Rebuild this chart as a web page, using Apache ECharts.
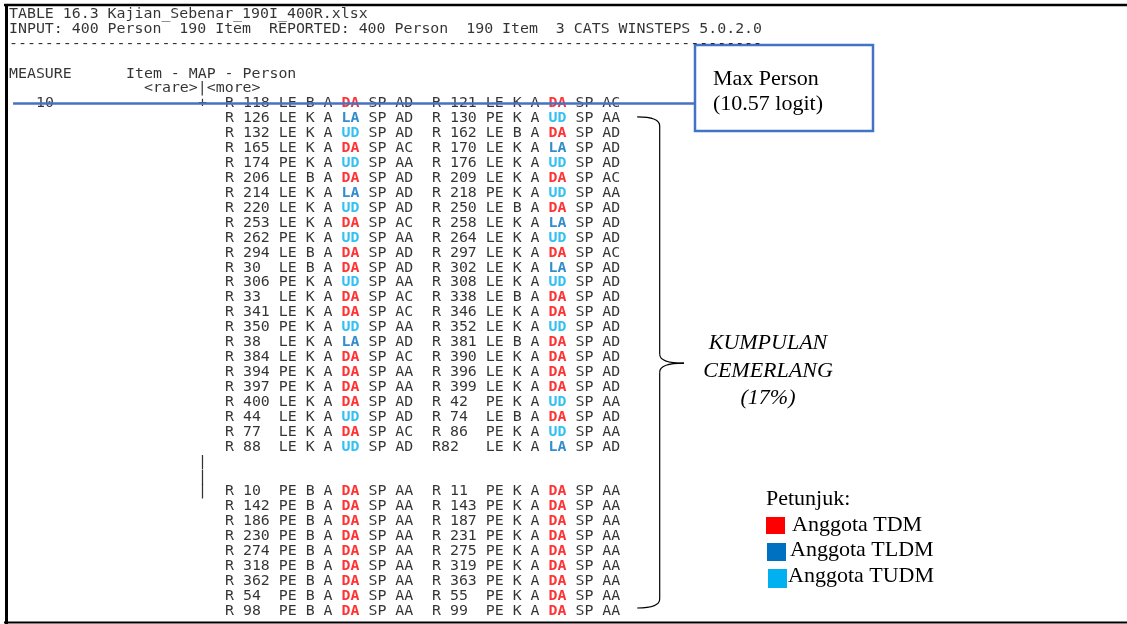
<!DOCTYPE html>
<html><head><meta charset="utf-8">
<script src="https://cdn.jsdelivr.net/npm/echarts@6/dist/echarts.min.js"></script>
<style>html,body{margin:0;padding:0;background:#fff}#c{width:1127px;height:624px}</style>
</head><body><div id="c"></div>
<script>
// ---- header text lines (row index, column index in characters) ----
const headerTexts = [
  'TABLE 16.3 Kajian_Sebenar_190I_400R.xlsx',
  'INPUT: 400 Person  190 Item  REPORTED: 400 Person  190 Item  3 CATS WINSTEPS 5.0.2.0',
  '------------------------------------------------------------------------------------',
  'MEASURE',
  'Item - MAP - Person',
  '<rare>|<more>'
];
const headerRows = [-6, -5, -4, -2, -2, -1];
const headerCols = [1, 1, 1, 1, 14, 16];

// ---- measure axis ----
const measureTickLabels = ['10'];
const measureTickRows = [0];
const axisMarks = ['+', '|', '|', '|'];
const axisMarkRows = [0, 24, 25, 26];

// ---- persons (two per row) ----
const personRows = [0,1,2,3,4,5,6,7,8,9,10,11,12,13,14,15,16,17,18,19,20,21,22,23,
                    26,27,28,29,30,31,32,33,34];
const personLeft = [
  'R 118 LE B A DA SP AD','R 126 LE K A LA SP AD','R 132 LE K A UD SP AD','R 165 LE K A DA SP AC',
  'R 174 PE K A UD SP AA','R 206 LE B A DA SP AD','R 214 LE K A LA SP AD','R 220 LE K A UD SP AD',
  'R 253 LE K A DA SP AC','R 262 PE K A UD SP AA','R 294 LE B A DA SP AD','R 30  LE B A DA SP AD',
  'R 306 PE K A UD SP AA','R 33  LE K A DA SP AC','R 341 LE K A DA SP AC','R 350 PE K A UD SP AA',
  'R 38  LE K A LA SP AD','R 384 LE K A DA SP AC','R 394 PE K A DA SP AA','R 397 PE K A DA SP AA',
  'R 400 LE K A DA SP AD','R 44  LE K A UD SP AD','R 77  LE K A DA SP AC','R 88  LE K A UD SP AD',
  'R 10  PE B A DA SP AA','R 142 PE B A DA SP AA','R 186 PE B A DA SP AA','R 230 PE B A DA SP AA',
  'R 274 PE B A DA SP AA','R 318 PE B A DA SP AA','R 362 PE B A DA SP AA','R 54  PE B A DA SP AA',
  'R 98  PE B A DA SP AA'
];
const personRight = [
  'R 121 LE K A DA SP AC','R 130 PE K A UD SP AA','R 162 LE B A DA SP AD','R 170 LE K A LA SP AD',
  'R 176 LE K A UD SP AD','R 209 LE K A DA SP AC','R 218 PE K A UD SP AA','R 250 LE B A DA SP AD',
  'R 258 LE K A LA SP AD','R 264 LE K A UD SP AD','R 297 LE K A DA SP AC','R 302 LE K A LA SP AD',
  'R 308 LE K A UD SP AD','R 338 LE B A DA SP AD','R 346 LE K A DA SP AD','R 352 LE K A UD SP AD',
  'R 381 LE B A DA SP AD','R 390 LE K A DA SP AD','R 396 LE K A DA SP AD','R 399 LE K A DA SP AD',
  'R 42  PE K A UD SP AA','R 74  LE B A DA SP AD','R 86  PE K A UD SP AA','R82   LE K A LA SP AD',
  'R 11  PE K A DA SP AA','R 143 PE K A DA SP AA','R 187 PE K A DA SP AA','R 231 PE K A DA SP AA',
  'R 275 PE K A DA SP AA','R 319 PE K A DA SP AA','R 363 PE K A DA SP AA','R 55  PE K A DA SP AA',
  'R 99  PE K A DA SP AA'
];
const groupColors = { DA: '#FF0000', LA: '#0070C0', UD: '#00B0F0' };

// ---- annotations ----
const maxPersonRow = 0;          // Max Person (10.57 logit)
const maxPersonCols = [1.45, 77.2];
const braceRows = [0.9, 17.4, 33.8];   // top, tip, bottom
const braceCols = [70.8, 73.3, 76.0];  // hook, spine, tip

// ---- layout constants ----
const CHAR = 9;        // px per character column
const MONO = '"DejaVu Sans Mono", "Liberation Mono", monospace';
const MONO_SIZE = 14.9;
const SERIF = '"Liberation Serif", "DejaVu Serif", serif';

const textItems = [];
headerTexts.forEach((t, i) => textItems.push({ value: [headerCols[i], headerRows[i]], text: t }));
measureTickLabels.forEach((t, i) => textItems.push({ value: [4, measureTickRows[i]], text: t }));
axisMarks.forEach((t, i) => textItems.push({ value: [22, axisMarkRows[i]], text: t }));
const personItems = [];
personRows.forEach((r, i) => {
  personItems.push({ value: [25, r], text: personLeft[i] });
  personItems.push({ value: [48, r], text: personRight[i] });
});

function colorize(s) {
  return s.replace(/\b(DA|LA|UD)\b/g, m => '{' + m.toLowerCase() + '|' + m + '}');
}
const richStyles = {};
Object.keys(groupColors).forEach(k => {
  richStyles[k.toLowerCase()] = { color: groupColors[k], fontWeight: 'bold', fontFamily: MONO, fontSize: MONO_SIZE };
});

const chart = echarts.init(document.getElementById('c'), null, { renderer: 'canvas' });
const rowPx = 14.925;
chart.setOption({
  animation: false,
  backgroundColor: '#fff',
  grid: { left: 0, right: 0, top: 6.5, height: 41 * rowPx },
  xAxis: { type: 'value', min: 0, max: 1127 / CHAR, show: false },
  yAxis: { type: 'value', inverse: true, min: -6.5, max: 34.5, show: false },
  series: [
    {
      type: 'scatter', silent: true, symbolSize: 0, data: textItems,
      label: { show: true, position: 'right', distance: 0, color: '#000',
        fontFamily: MONO, fontSize: MONO_SIZE, formatter: p => p.data.text }
    },
    {
      type: 'scatter', silent: true, symbolSize: 0, data: personItems,
      label: { show: true, position: 'right', distance: 0, color: '#000',
        fontFamily: MONO, fontSize: MONO_SIZE, formatter: p => colorize(p.data.text), rich: richStyles }
    },
    {
      type: 'line', silent: true, symbol: 'none', z: 10,
      data: maxPersonCols.map(c => [c, maxPersonRow]),
      lineStyle: { color: '#4472C4', width: 2.5 }
    },
    {
      type: 'custom', silent: true, data: [[0, 0]],
      renderItem: (params, api) => {
        const top = api.coord([braceCols[0], braceRows[0]]);
        const spineTop = api.coord([braceCols[1], braceRows[0]]);
        const tip = api.coord([braceCols[2], braceRows[1]]);
        const spineMid = api.coord([braceCols[1], braceRows[1]]);
        const bot = api.coord([braceCols[0], braceRows[2]]);
        const spineBot = api.coord([braceCols[1], braceRows[2]]);
        const sx = spineTop[0], r = 9;
        const st = { stroke: '#000', lineWidth: 1.2, fill: null };
        return {
          type: 'group',
          children: [
            { type: 'bezierCurve', shape: { x1: top[0], y1: top[1], cpx1: sx, cpy1: top[1], x2: sx, y2: top[1] + r }, style: st },
            { type: 'line', shape: { x1: sx, y1: top[1] + r, x2: sx, y2: spineMid[1] - r }, style: st },
            { type: 'bezierCurve', shape: { x1: sx, y1: spineMid[1] - r, cpx1: sx, cpy1: spineMid[1], x2: tip[0], y2: tip[1] }, style: st },
            { type: 'bezierCurve', shape: { x1: tip[0], y1: tip[1], cpx1: sx, cpy1: spineMid[1], x2: sx, y2: spineMid[1] + r }, style: st },
            { type: 'line', shape: { x1: sx, y1: spineMid[1] + r, x2: sx, y2: spineBot[1] - r }, style: st },
            { type: 'bezierCurve', shape: { x1: sx, y1: spineBot[1] - r, cpx1: sx, cpy1: bot[1], x2: bot[0], y2: bot[1] }, style: st }
          ]
        };
      }
    }
  ],
  graphic: [
    { type: 'line', shape: { x1: 4, y1: 5, x2: 1127, y2: 5 }, style: { stroke: '#000', lineWidth: 2.5 } },
    { type: 'line', shape: { x1: 6.5, y1: 4, x2: 6.5, y2: 624 }, style: { stroke: '#000', lineWidth: 3 } },
    { type: 'line', shape: { x1: 4, y1: 622.5, x2: 1127, y2: 622.5 }, style: { stroke: '#000', lineWidth: 2 } },
    { type: 'rect', shape: { x: 695, y: 45, width: 178, height: 86 }, style: { fill: '#fff', stroke: '#4472C4', lineWidth: 2.5 } },
    { type: 'text', x: 713, y: 79, style: { text: 'Max Person', font: '22px ' + SERIF, fill: '#000', textVerticalAlign: 'middle', verticalAlign: 'middle' } },
    { type: 'text', x: 713, y: 104, style: { text: '(10.57 logit)', font: '22px ' + SERIF, fill: '#000', textVerticalAlign: 'middle', verticalAlign: 'middle' } },
    { type: 'text', x: 768, y: 343, style: { text: 'KUMPULAN', font: 'italic 22px ' + SERIF, fill: '#000', textAlign: 'center', align: 'center', textVerticalAlign: 'middle', verticalAlign: 'middle' } },
    { type: 'text', x: 768, y: 371, style: { text: 'CEMERLANG', font: 'italic 22px ' + SERIF, fill: '#000', textAlign: 'center', align: 'center', textVerticalAlign: 'middle', verticalAlign: 'middle' } },
    { type: 'text', x: 768, y: 398, style: { text: '(17%)', font: 'italic 22px ' + SERIF, fill: '#000', textAlign: 'center', align: 'center', textVerticalAlign: 'middle', verticalAlign: 'middle' } },
    { type: 'text', x: 766, y: 499, style: { text: 'Petunjuk:', font: '22px ' + SERIF, fill: '#000', textVerticalAlign: 'middle', verticalAlign: 'middle' } },
    { type: 'rect', shape: { x: 766, y: 517, width: 19, height: 17 }, style: { fill: groupColors.DA } },
    { type: 'rect', shape: { x: 767, y: 543, width: 19, height: 18 }, style: { fill: groupColors.LA } },
    { type: 'rect', shape: { x: 768, y: 569, width: 19, height: 19 }, style: { fill: groupColors.UD } },
    { type: 'text', x: 792, y: 525, style: { text: 'Anggota TDM', font: '22px ' + SERIF, fill: '#000', textVerticalAlign: 'middle', verticalAlign: 'middle' } },
    { type: 'text', x: 790, y: 550, style: { text: 'Anggota TLDM', font: '22px ' + SERIF, fill: '#000', textVerticalAlign: 'middle', verticalAlign: 'middle' } },
    { type: 'text', x: 788, y: 576, style: { text: 'Anggota TUDM', font: '22px ' + SERIF, fill: '#000', textVerticalAlign: 'middle', verticalAlign: 'middle' } }
  ]
});
</script></body></html>
